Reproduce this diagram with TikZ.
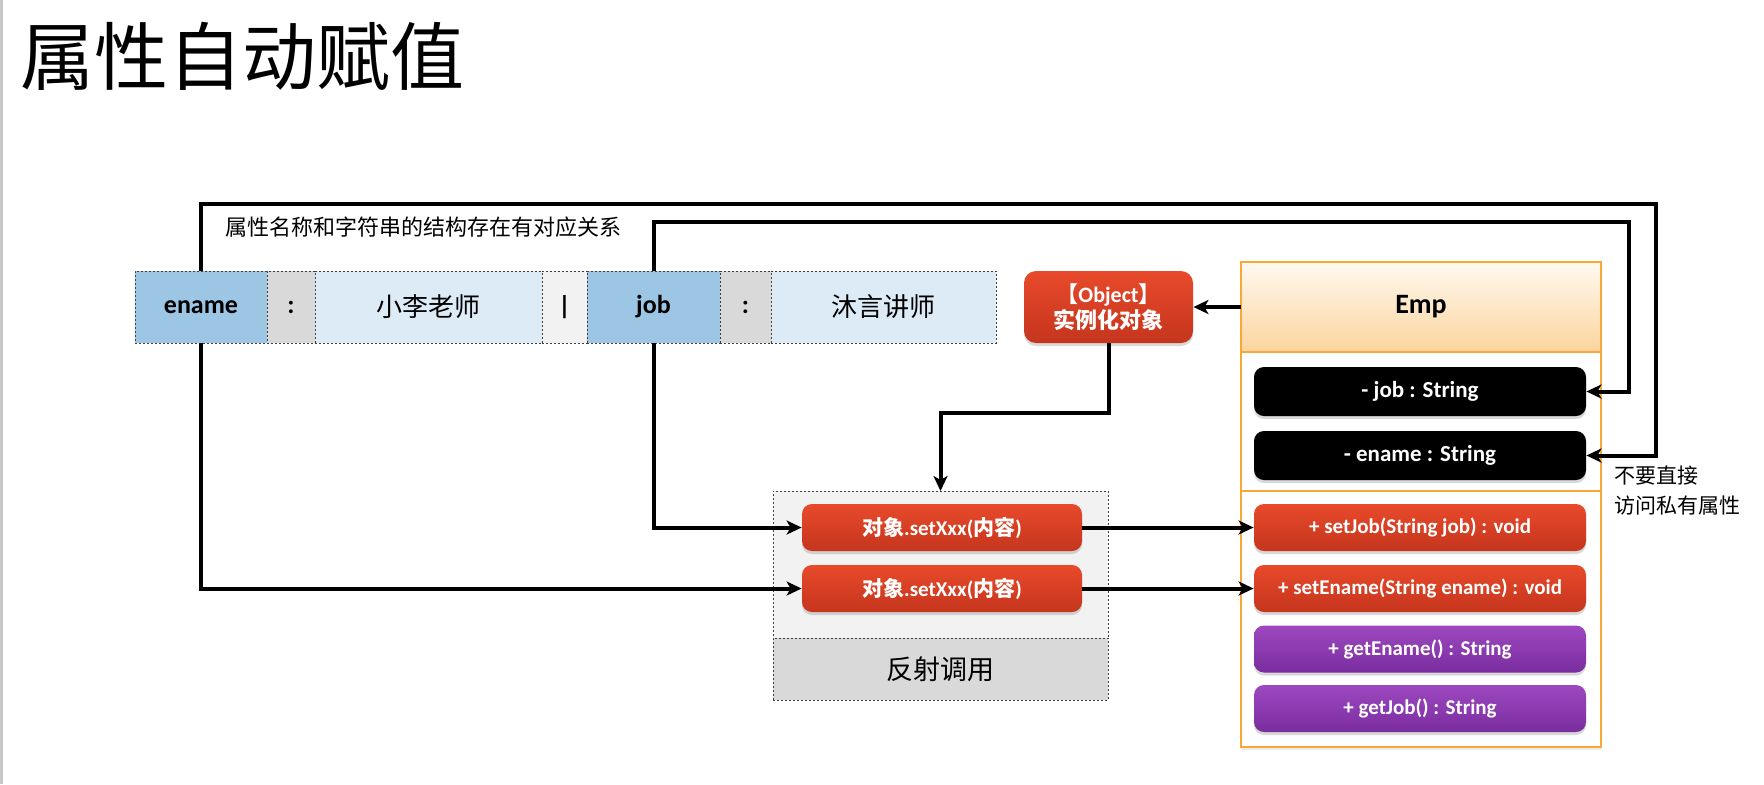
\documentclass[tikz,border=0pt]{standalone}
\usepackage{fontspec}
\setmainfont{Carlito}
\newfontfamily\cjk{Noto Sans CJK SC}
\usepackage{xcolor}
\usetikzlibrary{positioning, arrows.meta, shadows, calc}

\definecolor{keyblue}{HTML}{9DC6E4}
\definecolor{valblue}{HTML}{DDEBF7}
\definecolor{sepgray}{HTML}{D9D9D9}
\definecolor{bargray}{HTML}{F2F2F2}
\definecolor{redtop}{HTML}{E84A2B}
\definecolor{redbot}{HTML}{C5351D}
\definecolor{purptop}{HTML}{9D48C0}
\definecolor{purpbot}{HTML}{7A2D9F}
\definecolor{emporange}{HTML}{F8A834}
\definecolor{emptop}{HTML}{FFF9F0}
\definecolor{empbot}{HTML}{FBD49E}

\begin{document}
\begin{tikzpicture}[x=0.5pt, y=-0.5pt,
    >={Stealth[length=7.5pt, width=7pt, inset=2pt]},
    line/.style={line width=2pt},
    cell/.style={draw=black!75, dash pattern=on 1.2pt off 0.8pt, line width=0.4pt,
      minimum height=36pt, inner sep=0pt, outer sep=0pt},
    keycell/.style={cell, fill=keyblue, font=\bfseries\fontsize{13}{15}\selectfont},
    sepcell/.style={cell, fill=sepgray, font=\bfseries\fontsize{13}{15}\selectfont},
    barcell/.style={cell, fill=bargray, font=\bfseries\fontsize{13}{15}\selectfont},
    valcell/.style={cell, fill=valblue, font=\cjk\fontsize{13}{15}\selectfont},
    boxshadow/.style={drop shadow={opacity=0.3, shadow xshift=0pt, shadow yshift=-1.5pt}},
    rednode/.style={rounded corners=5pt, top color=redtop, bottom color=redbot,
      text=white, minimum height=23.5pt, inner sep=0pt, boxshadow,
      font=\bfseries\fontsize{10.5}{12}\selectfont},
    purplenode/.style={rednode, top color=purptop, bottom color=purpbot, minimum width=166pt},
    attrnode/.style={rednode, top color=black, bottom color=black, minimum width=166pt,
      minimum height=24.5pt, font=\bfseries\fontsize{11.5}{13}\selectfont},
    reflbox/.style={draw=black!75, dash pattern=on 1.2pt off 0.8pt, line width=0.4pt,
      minimum width=167.5pt, inner sep=0pt, outer sep=0pt},
    empbox/.style={draw=emporange, line width=1pt, minimum width=180pt, inner sep=0pt, outer sep=0pt}
  ]
  \useasboundingbox (0,0) rectangle (1764,784);
  \fill[black!22] (0,0) rectangle (3,784);

  % title
  \node[anchor=west, inner sep=0pt, font=\cjk\fontsize{37}{40}\selectfont] (title) at (20,56) {属性自动赋值};

  % string
  \node[keycell, minimum width=66pt] (ename) at (201,307) {ename};
  \node[sepcell, minimum width=24pt, right=0pt of ename] (colon1) {:};
  \node[valcell, minimum width=113.5pt, right=0pt of colon1] (xiaoli) {小李老师};
  \node[barcell, minimum width=22.5pt, right=0pt of xiaoli] (bar) {|};
  \node[keycell, minimum width=66.5pt, right=0pt of bar] (job) {job};
  \node[sepcell, minimum width=25.5pt, right=0pt of job] (colon2) {:};
  \node[valcell, minimum width=112.5pt, right=0pt of colon2] (muyan) {沐言讲师};

  \node[anchor=west, inner sep=0pt, font=\cjk\fontsize{11}{13}\selectfont] (note) at (225,227) {属性名称和字符串的结构存在有对应关系};

  % object
  \node[rednode, rounded corners=6pt, minimum width=84.5pt, minimum height=36pt, align=center,
    font=\bfseries\fontsize{11}{13}\selectfont] (obj) at (1108.5,307) {{\cjk 【}Object{\cjk 】}\\{\cjk 实例化对象}};

  % reflection
  \node[reflbox, fill=bargray, minimum height=73.5pt] (refl) at (940.5,564.5) {};
  \node[reflbox, fill=sepgray, minimum height=31pt, below=0pt of refl,
    font=\cjk\fontsize{13.5}{15}\selectfont] (reflabel) {反射调用};
  \node[rednode, minimum width=140pt] (set1) at (942,527.5) {{\cjk 对象}.setXxx({\cjk 内容})};
  \node[rednode, minimum width=140pt] (set2) at (942,588.5) {{\cjk 对象}.setXxx({\cjk 内容})};

  % Emp
  \node[empbox, top color=emptop, bottom color=empbot, minimum height=45pt,
    font=\bfseries\fontsize{14}{16}\selectfont] (emp) at (1421,307) {Emp};
  \node[empbox, fill=white, minimum height=197.5pt, below=0pt of emp,
    drop shadow={opacity=0.15, shadow xshift=0pt, shadow yshift=-1.5pt}] (empbody) {};
  \coordinate (sep) at (0,491);
  \draw[emporange, line width=1pt] (empbody.west |- sep) -- (empbody.east |- sep);

  \node[attrnode] (jobattr) at (1420,391.5) {- job : String};
  \node[attrnode] (enameattr) at (1420,455.5) {- ename : String};
  \node[rednode, minimum width=166pt] (setjob) at (1420,527.5) {+ setJob(String job) : void};
  \node[rednode, minimum width=166pt] (setename) at (1420,588.5) {+ setEname(String ename) : void};
  \node[purplenode] (getename) at (1420,649) {+ getEname() : String};
  \node[purplenode] (getjob) at (1420,708.5) {+ getJob() : String};

  \node[anchor=west, align=left, inner sep=0pt, font=\cjk\fontsize{10.5}{15}\selectfont] (warn) at (1614,491) {不要直接\\访问私有属性};

  % connectors
  \coordinate (outer) at (1656,204);
  \coordinate (inner) at (1629,222);
  \draw[line,->] (ename.north) |- (outer) |- (enameattr.east);
  \draw[line,->] (job.north) |- (inner) |- (jobattr.east);
  \draw[line,->] (ename.south) |- (set2.west);
  \draw[line,->] (job.south) |- (set1.west);
  \draw[line,->] (emp.west) -- (obj.east);
  \draw[line,->] (obj.south) -- ++(0,70) -| (refl.north);
  \draw[line,->] (set1.east) -- (setjob.west);
  \draw[line,->] (set2.east) -- (setename.west);
\end{tikzpicture}
\end{document}
